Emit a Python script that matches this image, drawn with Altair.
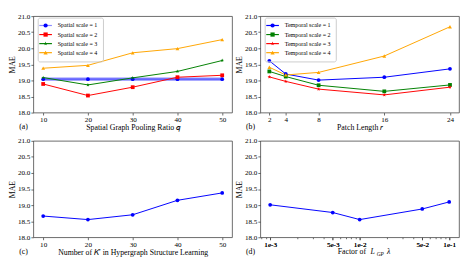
import altair as alt
import pandas as pd
import numpy as np

# ---------------- data ----------------
q_vals = [10, 20, 30, 40, 50]
spatial_names = ["Spatial scale = 1", "Spatial scale = 2", "Spatial scale = 3", "Spatial scale = 4"]
spatial_s1 = [19.04, 19.04, 19.04, 19.04, 19.04]
spatial_s2 = [18.89, 18.53, 18.79, 19.10, 19.16]
spatial_s3 = [19.09, 18.86, 19.08, 19.28, 19.62]
spatial_s4 = [19.38, 19.47, 19.86, 19.99, 20.27]

r_vals = [2, 4, 8, 16, 24]
temporal_names = ["Temporal scale = 1", "Temporal scale = 2", "Temporal scale = 3", "Temporal scale = 4"]
temporal_s1 = [19.61, 19.20, 19.01, 19.10, 19.36]
temporal_s2 = [19.28, 19.12, 18.85, 18.66, 18.86]
temporal_s3 = [19.11, 18.97, 18.73, 18.55, 18.79]
temporal_s4 = [19.41, 19.17, 19.25, 19.76, 20.67]

k_vals = [10, 20, 30, 40, 50]
k_mae = [18.66, 18.55, 18.70, 19.15, 19.38]

lam_vals = [0.001, 0.005, 0.01, 0.05, 0.1]
lam_labels = ["1e-3", "5e-3", "1e-2", "5e-2", "1e-1"]
lam_mae = [19.01, 18.77, 18.55, 18.88, 19.10]
lam_minor = [0.0008, 0.0009, 0.002, 0.003, 0.004, 0.006, 0.007, 0.008, 0.009,
             0.02, 0.03, 0.04, 0.06, 0.07, 0.08, 0.09]

y_ticks = [18.0, 18.5, 19.0, 19.5, 20.0, 20.5, 21.0]
captions = ["(a)", "(b)", "(c)", "(d)"]
x_titles = ["Spatial Graph Pooling Ratio \U0001D45E", "Patch Length \U0001D45F",
            "Number of \U0001D43E\u2032 in Hypergraph Structure Learning"]

# ---------------- style ----------------
FONT = "Liberation Serif, Times New Roman, serif"
W, H = 204, 99
BLUE, RED, GREEN, ORANGE = "#0000ff", "#ff0000", "#008000", "#ffa500"
BLUE_T = "rgba(0,0,255,0.45)"
CAP_Y = H + 15


def star_path(r_in=0.42):
    pts = []
    for k in range(10):
        ang = -np.pi / 2 + k * np.pi / 5
        r = 1.0 if k % 2 == 0 else r_in
        pts.append((r * np.cos(ang), r * np.sin(ang)))
    return "M" + "L".join(f"{x:.3f},{y:.3f}" for x, y in pts) + "Z"


STAR = star_path()
LEG_SIZE = 18.8
LEG_COMMON = dict(title=None, orient="none", legendX=4.5, legendY=1.5, symbolSize=LEG_SIZE,
                  labelFont=FONT, labelFontSize=6.2, labelOffset=9.3, rowPadding=2.3,
                  padding=5, labelLimit=300)


def line_legend():
    return alt.Legend(symbolType="M-3,0H3", strokeColor="#cccccc", cornerRadius=2,
                      symbolStrokeWidth=1.2, symbolFillColor="transparent", **LEG_COMMON)


def shape_legend():
    return alt.Legend(labelExpr="''", symbolStrokeWidth=0, **LEG_COMMON)


def y_enc():
    return alt.Y("mae:Q", scale=alt.Scale(domain=[18, 21], nice=False, zero=False),
                 axis=alt.Axis(values=y_ticks, format=".1f", title="MAE"))


def multi_panel(xs, names, series, line_colors, colors, shapes, band_first, xdom, xtitle, cap, key):
    pnames = [n + " " for n in names]  # distinct domain so the two legends stay separate
    rows = []
    for n, pn, vals in zip(names, pnames, series):
        for x, v in zip(xs, vals):
            rows.append({"x": x, "mae": v, key + "_l": n, key + "_p": pn})
    df = pd.DataFrame(rows)
    xenc = alt.X("x:Q", scale=alt.Scale(domain=xdom, nice=False, zero=False),
                 axis=alt.Axis(values=xs, title=xtitle, labelFlush=False))
    base = alt.Chart(df)
    layers = []
    if band_first:
        # thick translucent line of the first series
        layers.append(
            alt.Chart(df[df[key + "_l"] == names[0]]).mark_line(
                color=BLUE, strokeWidth=3.5, opacity=0.45
            ).encode(x=xenc, y=y_enc())
        )
    layers.append(base.mark_line(strokeWidth=1).encode(
        x=xenc, y=y_enc(),
        stroke=alt.Stroke(key + "_l:N", scale=alt.Scale(domain=names, range=line_colors), legend=line_legend()),
    ))
    layers.append(base.mark_point(filled=True, size=15, opacity=1).encode(
        x=xenc, y=y_enc(),
        fill=alt.Fill(key + "_p:N", scale=alt.Scale(domain=pnames, range=colors), legend=shape_legend()),
        shape=alt.Shape(key + "_p:N", scale=alt.Scale(domain=pnames, range=shapes), legend=shape_legend()),
    ))
    layers.append(alt.Chart(pd.DataFrame({"t": [cap]})).mark_text(
        font=FONT, fontSize=8, baseline="middle", align="center"
    ).encode(text="t:N", x=alt.value(-10), y=alt.value(CAP_Y)))
    return alt.layer(*layers).properties(width=W, height=H)


chart_a = multi_panel(q_vals, spatial_names, [spatial_s1, spatial_s2, spatial_s3, spatial_s4],
                      [BLUE_T, RED, GREEN, ORANGE], [BLUE, RED, GREEN, ORANGE],
                      ["circle", "square", STAR, "triangle-up"],
                      True, [7.8, 52.2], x_titles[0], captions[0], "sa")
chart_b = multi_panel(r_vals, temporal_names, [temporal_s1, temporal_s2, temporal_s3, temporal_s4],
                      [BLUE, GREEN, RED, ORANGE], [BLUE, GREEN, RED, ORANGE],
                      ["circle", "square", STAR, "triangle-up"],
                      False, [0.9, 25.1], x_titles[1], captions[1], "tb")

# panel c
df_c = pd.DataFrame({"x": k_vals, "mae": k_mae})
xc = alt.X("x:Q", scale=alt.Scale(domain=[7.8, 52.2], nice=False, zero=False),
           axis=alt.Axis(values=k_vals, title=x_titles[2], labelFlush=False))
chart_c = alt.layer(
    alt.Chart(df_c).mark_line(color=BLUE, strokeWidth=1).encode(x=xc, y=y_enc()),
    alt.Chart(df_c).mark_point(filled=True, color=BLUE, size=15, opacity=1).encode(x=xc, y=y_enc()),
    alt.Chart(pd.DataFrame({"t": [captions[2]]})).mark_text(font=FONT, fontSize=8, baseline="middle")
    .encode(text="t:N", x=alt.value(-10), y=alt.value(CAP_Y)),
).properties(width=W, height=H)

# panel d (log x)
df_d = pd.DataFrame({"x": lam_vals, "mae": lam_mae})
lab_expr = " : ".join(f"datum.value < {v * 1.01} ? '{l}'" for v, l in zip(lam_vals, lam_labels)) + " : ''"
dscale = alt.Scale(type="log", domain=[0.000776, 0.1288], nice=False)
xd = alt.X("x:Q", scale=dscale,
           axis=alt.Axis(values=lam_vals, labelExpr=lab_expr, title=None, labelFlush=False, orient="bottom"))
xd_minor = alt.X("x:Q", scale=dscale,
                 axis=alt.Axis(values=lam_minor, labels=False, tickSize=1.5, title=None, orient="bottom"))
t_y = CAP_Y
cx = W / 2
title_d = [
    alt.Chart(pd.DataFrame({"t": ["Factor of"]})).mark_text(font=FONT, fontSize=8, baseline="middle", align="right")
    .encode(text="t:N", x=alt.value(cx + 6.5), y=alt.value(t_y)),
    alt.Chart(pd.DataFrame({"t": ["L"]})).mark_text(font=FONT, fontSize=8, fontStyle="italic", baseline="middle", align="left")
    .encode(text="t:N", x=alt.value(cx + 11), y=alt.value(t_y)),
    alt.Chart(pd.DataFrame({"t": ["GP"]})).mark_text(font=FONT, fontSize=5.5, fontStyle="italic", baseline="middle", align="left")
    .encode(text="t:N", x=alt.value(cx + 17.5), y=alt.value(t_y + 2)),
    alt.Chart(pd.DataFrame({"t": ["\u03bb"]})).mark_text(font=FONT, fontSize=8, fontStyle="italic", baseline="middle", align="left")
    .encode(text="t:N", x=alt.value(cx + 28), y=alt.value(t_y)),
]
chart_d = alt.layer(
    alt.Chart(df_d).mark_line(color=BLUE, strokeWidth=1).encode(x=xd, y=y_enc()),
    alt.Chart(df_d).mark_point(filled=True, color=BLUE, size=15, opacity=1).encode(x=xd, y=y_enc()),
    alt.Chart(df_d).mark_point(opacity=0).encode(x=xd_minor, y=y_enc()),
    alt.Chart(pd.DataFrame({"t": [captions[3]]})).mark_text(font=FONT, fontSize=8, baseline="middle")
    .encode(text="t:N", x=alt.value(-10), y=alt.value(CAP_Y)),
    *title_d,
).resolve_axis(x="independent").properties(width=W, height=H)

indep = dict(stroke="independent", fill="independent", shape="independent")
top = alt.hconcat(chart_a, chart_b, spacing=2).resolve_scale(**indep).resolve_legend(
    stroke="independent", fill="independent", shape="independent")
bottom = alt.hconcat(chart_c, chart_d, spacing=2)
chart = alt.vconcat(top, bottom, spacing=3).resolve_scale(**indep).properties(
    padding={"left": 0, "top": 0, "right": 0, "bottom": 0}
).configure_view(stroke="#444444", strokeWidth=0.8).configure_axis(
    labelFont=FONT, labelFontSize=7.3, labelColor="#000000", titleFont=FONT, titleFontSize=8,
    titleFontWeight="normal", titleColor="#000000", tickColor="#444444", tickSize=2.5,
    tickWidth=0.8, domain=False, grid=False, labelPadding=1, titlePadding=1, labelOverlap=False
)

chart.save("out.html", embed_options={"renderer": "svg", "actions": False})
